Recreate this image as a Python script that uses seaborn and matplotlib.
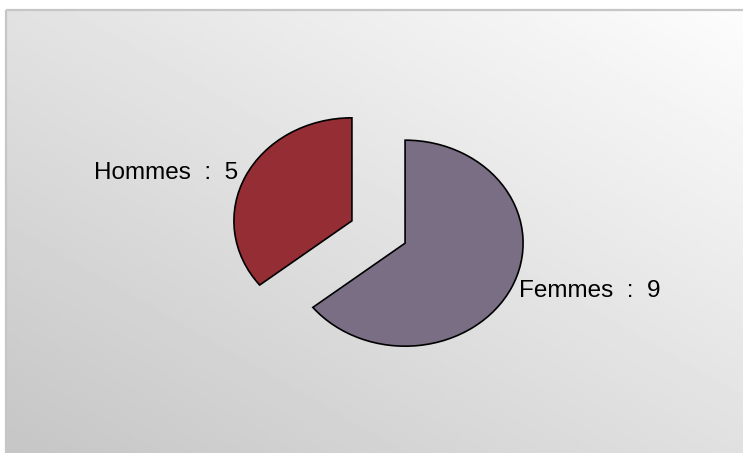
import numpy as np
import matplotlib
matplotlib.use("Agg")
import matplotlib.pyplot as plt
from matplotlib.patches import Rectangle
import seaborn as sns

# --- données ---
categories = ["Femmes", "Hommes"]
effectifs = [9, 5]
couleurs = ["#7A6E84", "#952D34"]

sns.set_theme(style="white")
plt.rcParams["font.family"] = ["Liberation Sans", "DejaVu Sans"]

W, H = 743, 453
fig = plt.figure(figsize=(W / 100, H / 100), dpi=100)
fig.patch.set_facecolor("white")

# fond dégradé (clair en haut à droite, foncé en bas à gauche)
bg = fig.add_axes([0, 0, 1, 1])
bg.set_xlim(0, W)
bg.set_ylim(H, 0)
bg.axis("off")
gx, gy = np.meshgrid(np.linspace(0, 1, 300), np.linspace(1, 0, 200))
grad = 0.775 + 0.105 * gx + 0.11 * gy
bg.imshow(grad, cmap="gray", vmin=0, vmax=1, extent=(6, W, H, 10),
          aspect="auto", interpolation="bilinear", zorder=0)
bg.add_patch(Rectangle((5.5, 9.5), W, H, fill=False, edgecolor="#c6c6c6",
                       linewidth=1.6, zorder=1))

# camembert (légèrement elliptique)
ax = fig.add_axes([0, 0, 1, 1])
ax.patch.set_alpha(0)
labels = [f"{c}  :  {v}" for c, v in zip(categories, effectifs)]
ax.pie(effectifs, labels=labels, colors=couleurs, startangle=90,
       counterclock=False, explode=[0.25, 0.25], labeldistance=1.07,
       wedgeprops=dict(edgecolor="black", linewidth=1.2),
       textprops=dict(fontsize=17.5, color="black"))
ax.set_aspect("auto")
cx, cy = 378.5, 232
rx, ry = 118, 103
ax.set_xlim(-cx / rx, (W - cx) / rx)
ax.set_ylim(-(H - cy) / ry, cy / ry)
ax.axis("off")

fig.savefig("out.png", dpi=100)
